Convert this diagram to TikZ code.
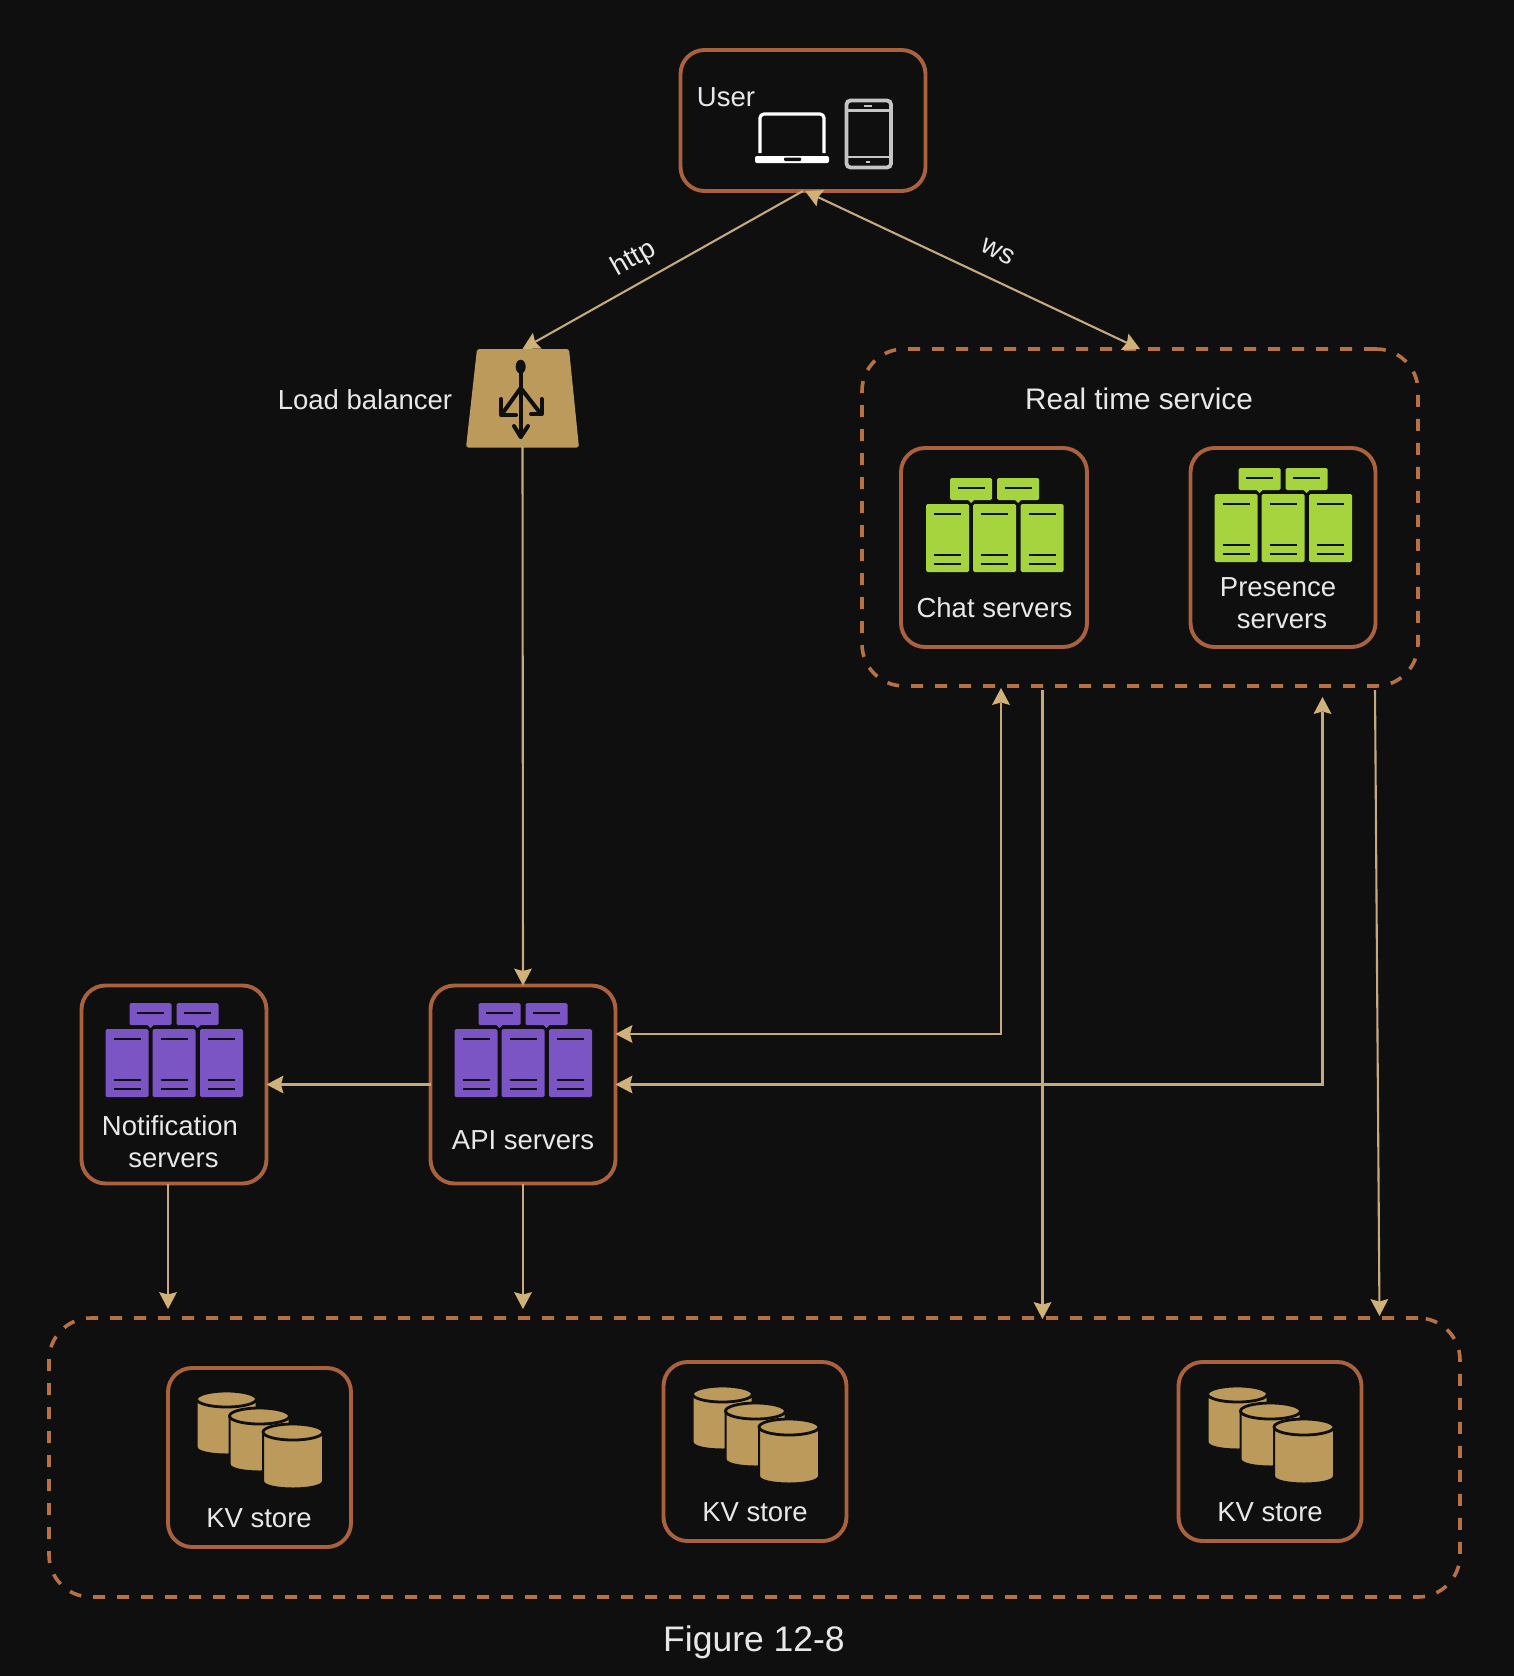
\documentclass[tikz,border=0pt]{standalone}
\usepackage{fontspec}
\setmainfont{Liberation Sans}
\usetikzlibrary{arrows.meta}
\definecolor{bgc}{HTML}{0F0F10}
\definecolor{rust}{HTML}{A9623D}
\definecolor{dashc}{HTML}{B87045}
\definecolor{tan}{HTML}{BC9A5C}
\definecolor{wire}{HTML}{C6A97F}
\definecolor{head}{HTML}{D0B278}
\definecolor{lime}{HTML}{A6D43F}
\definecolor{violet}{HTML}{7C55C4}
\definecolor{txtc}{HTML}{E8E8E8}
\tikzset{
  box/.style={draw=rust,line width=3.9pt,rounded corners=24pt,inner sep=0pt,outer sep=0pt},
  dashbox/.style={draw=dashc,line width=3.6pt,dash pattern=on 12pt off 12pt,rounded corners=42pt,inner sep=0pt,outer sep=0pt},
  txt/.style={text=txtc,font=\fontsize{27.5}{32}\selectfont,align=center,inner sep=0pt},
  conn/.style={draw=wire,line width=2.1pt,-{Stealth[inset=2.5pt,length=17pt,width=18pt,color=head,line width=0pt]}},
  conntwo/.style={conn,{Stealth[inset=2.5pt,length=17pt,width=18pt,color=head,line width=0pt]}-{Stealth[inset=2.5pt,length=17pt,width=18pt,color=head,line width=0pt]}},
}
\newcommand\servericon[3]{%
\begin{scope}[shift={(#1,#2)}]
  \foreach \a in {-44.5,2.5}{
    \fill[#3,rounded corners=1.5pt] (\a,0) rectangle (\a+42,22);
    \fill[#3] (\a+18,22) -- (\a+24,22) -- (\a+21,25) -- cycle;
    \draw[bgc,line width=2.4pt] (\a+7.5,10) -- (\a+34.5,10);
  }
  \foreach \a in {-68.5,-21.5,26}{
    \fill[#3,rounded corners=1.5pt] (\a,26) rectangle (\a+43,94);
    \draw[bgc,line width=2.4pt] (\a+8,36) -- (\a+35,36);
    \draw[bgc,line width=2.4pt] (\a+8,77) -- (\a+35,77);
    \draw[bgc,line width=2.4pt] (\a+8,86) -- (\a+35,86);
  }
\end{scope}}
\newcommand\onecyl[3]{%
  \fill[tan,draw=bgc,line width=2pt] (#1-30,#2) -- (#1-30,#2+#3) .. controls (#1-30,#2+#3+10) and (#1+30,#2+#3+10) .. (#1+30,#2+#3) -- (#1+30,#2) -- cycle;
  \fill[tan,draw=bgc,line width=2.8pt] (#1,#2) circle [x radius=30,y radius=8];}
\newcommand\kvicon[2]{%
\begin{scope}[shift={(#1,#2)}]
  \onecyl{0}{0}{48}
  \onecyl{33}{17}{48}
  \onecyl{66.5}{33}{49}
\end{scope}}
\begin{document}
\begin{tikzpicture}[x=1pt,y=-1pt]
\useasboundingbox (0,0) rectangle (1514,1676);
\fill[bgc] (0,0) rectangle (1514,1676);

% containers
\node[dashbox,minimum width=556pt,minimum height=337pt] (rt) at (1140,517.5) {};
\node[dashbox,minimum width=1411pt,minimum height=279pt] (store) at (754.5,1457.5) {};

% boxes
\node[box,minimum width=245pt,minimum height=141pt] (user) at (803,120.5) {};
\node[box,minimum width=186pt,minimum height=199pt] (chat) at (994,547.5) {};
\node[box,minimum width=185pt,minimum height=199pt] (presence) at (1283,547.5) {};
\node[box,minimum width=185pt,minimum height=198pt] (api) at (523,1084.5) {};
\node[box,minimum width=185pt,minimum height=198pt] (notif) at (174,1084.5) {};
\node[box,minimum width=183pt,minimum height=179pt] (kva) at (259.5,1457.5) {};
\node[box,minimum width=183pt,minimum height=179pt] (kvb) at (755,1451.5) {};
\node[box,minimum width=183pt,minimum height=179pt] (kvc) at (1270,1451.5) {};

% load balancer
\node[inner sep=0pt,outer sep=0pt,minimum width=113pt,minimum height=98pt] (lb) at (522.5,398) {};
\fill[tan,rounded corners=2.5pt] (477,349) -- (569,349) -- (579,447.5) -- (466,447.5) -- cycle;
\begin{scope}[draw=bgc,line width=4pt,line cap=round,line join=round]
  \fill[bgc] (520.7,366.7) ellipse [x radius=5,y radius=7];
  \draw (520.7,370) -- (520.7,437);
  \draw (514,426) -- (520.7,437) -- (528,426);
  \draw (520.7,388) -- (502,414);
  \draw (501,399) -- (501,415) -- (516,415);
  \draw (520.7,388) -- (541,414);
  \draw (541.5,399) -- (541.5,414) -- (531,414);
\end{scope}

% user icons
\draw[white,line width=3.2pt,rounded corners=4pt] (760,153) -- (760,114) -- (824,114) -- (824,153);
\fill[white,rounded corners=2pt] (755,156) rectangle (829,163);
\fill[bgc,rounded corners=1pt] (784,157.5) rectangle (801,161);
\draw[txtc!85!black,line width=3.8pt,rounded corners=4pt] (846.5,100.5) rectangle (891,167.5);
\draw[txtc!85!black,line width=2.6pt] (846.5,110.5) -- (891,110.5) (846.5,157) -- (891,157);
\draw[txtc!85!black,line width=2pt] (864,106) -- (872,106) (866,162) -- (870,162);

% icons
\servericon{994.5}{478}{lime}
\servericon{1283}{468}{lime}
\servericon{523}{1003}{violet}
\servericon{174}{1003}{violet}
\kvicon{226.5}{1399}
\kvicon{722.5}{1394}
\kvicon{1237.5}{1394}

% texts
\node[txt] (tuser) at (726,97) {User};
\node[txt] (tlb) at (365,400) {Load balancer};
\node[txt,font=\fontsize{29.7}{34}\selectfont] (trt) at (1139,399) {Real time service};
\node[txt] (tchat) at (994.5,608) {Chat servers};
\node[txt] (tpres) at (1282,603) {Presence\hspace*{8pt}\\servers};
\node[txt] (tnotif) at (173.5,1142) {Notification\hspace*{7pt}\\servers};
\node[txt] (tapi) at (523,1140) {API servers};
\node[txt] (tkva) at (259,1518) {KV store};
\node[txt] (tkvb) at (755,1512) {KV store};
\node[txt] (tkvc) at (1270,1512) {KV store};
\node[txt,font=\fontsize{35.5}{40}\selectfont] (fig) at (754,1642) {Figure 12-8};

% free ends
\coordinate (nstop) at (168,1309);
\coordinate (astop) at (523,1309);
\coordinate (rtdA) at (1042.5,690);
\coordinate (stA) at (1042.5,1319);
\coordinate (rtdB) at (1375,690);
\coordinate (stB) at (1379.5,1316);
\coordinate (chatup) at (1001,688);
\coordinate (presup) at (1322.5,697);

% connectors
\draw[conn] (user.south) -- (lb.north);
\draw[conntwo] (user.south) ++(2,0) -- (rt.north);
\draw[conn] (lb.south) -- (api.north);
\draw[conn] (api.west) -- (notif.east);
\draw[conntwo] (api.east |- 0,1034) -- (chatup |- 0,1034) -- (chatup);
\draw[conntwo] (api.east) -- (presup |- api.east) -- (presup);
\draw[conn] (rtdA) -- (stA);
\draw[conn] (rtdB) -- (stB);
\draw[conn] (notif.south -| nstop) -- (nstop);
\draw[conn] (api.south) -- (astop);

% edge labels
\node[txt,rotate=30] (lhttp) at (634,259) {http};
\node[txt,rotate=-28] (lws) at (998,252) {ws};
\end{tikzpicture}
\end{document}
